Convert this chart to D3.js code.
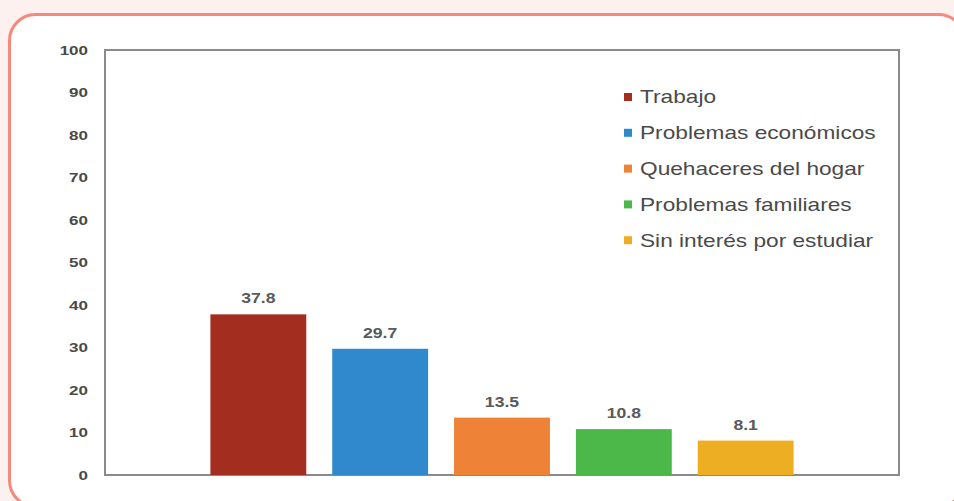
<!DOCTYPE html>
<html><head><meta charset="utf-8">
<script src="https://cdn.jsdelivr.net/npm/d3@7"></script>
<style>
html,body{margin:0;padding:0;background:#fdf1ef;overflow:hidden;}
svg{display:block;}
</style></head>
<body>
<svg id="chart" width="954" height="501"></svg>
<script>
const categories = ["Trabajo","Problemas económicos","Quehaceres del hogar","Problemas familiares","Sin interés por estudiar"];
const values = [37.8, 29.7, 13.5, 10.8, 8.1];
const colors = ["#a32e1f","#2f89cc","#ee8236","#4cb84a","#eeae23"];
const yTicks = [0,10,20,30,40,50,60,70,80,90,100];

const svg = d3.select("#chart");
const SX = 1.26; // horizontal stretch of the text in the original
const FONT = "Liberation Sans, Arial, sans-serif";

// card
svg.append("rect").attr("x",9.5).attr("y",14.5).attr("width",955).attr("height",492)
  .attr("rx",26).attr("ry",26).attr("fill","#ffffff").attr("stroke","#f58a7c").attr("stroke-width",3);

const L=105, R=899, T=50, B=475;
const x = d3.scaleBand().domain(categories).range([L,R]).paddingInner(0.213).paddingOuter(0.865);
const y = d3.scaleLinear().domain([0,100]).range([B,T]);

// plot frame
svg.append("rect").attr("x",L).attr("y",T).attr("width",R-L).attr("height",B-T)
  .attr("fill","none").attr("stroke","#8a8a8a").attr("stroke-width",2);

// y axis labels
const yAxis = d3.axisLeft(y).tickValues(yTicks).tickSize(0).tickPadding(17);
const ga = svg.append("g").attr("transform",`translate(${L},0)`).call(yAxis);
ga.select(".domain").remove();
ga.selectAll("text").attr("font-family",FONT).attr("font-size",13.5)
  .attr("font-weight","bold").attr("fill","#4a4a4a")
  .attr("x",-17/SX).attr("transform",`scale(${SX},1)`);

// bars
svg.selectAll("rect.bar").data(categories).enter().append("rect").attr("class","bar")
  .attr("x",d=>x(d)).attr("width",x.bandwidth())
  .attr("y",(d,i)=>y(values[i])).attr("height",(d,i)=>B-y(values[i]))
  .attr("fill",(d,i)=>colors[i]);

// value labels
svg.selectAll("text.val").data(categories).enter().append("text").attr("class","val")
  .attr("transform",(d,i)=>`translate(${x(d)+x.bandwidth()/2},${y(values[i])-11}) scale(${SX},1)`)
  .attr("text-anchor","middle").attr("font-family",FONT)
  .attr("font-size",14).attr("font-weight","bold").attr("fill","#5a5a5a")
  .text((d,i)=>values[i].toFixed(1));

// legend
const lg = svg.append("g").attr("transform","translate(624,97)");
categories.forEach((c,i)=>{
  const g = lg.append("g").attr("transform",`translate(0,${i*35.8})`);
  g.append("rect").attr("x",0).attr("y",-4).attr("width",8).attr("height",8).attr("fill",colors[i]);
  g.append("text").attr("transform",`translate(16,0) scale(${SX},1)`).attr("dy","0.36em")
    .attr("font-family",FONT).attr("font-size",18).attr("fill","#4a4a4a").text(c);
});
</script>
</body></html>
